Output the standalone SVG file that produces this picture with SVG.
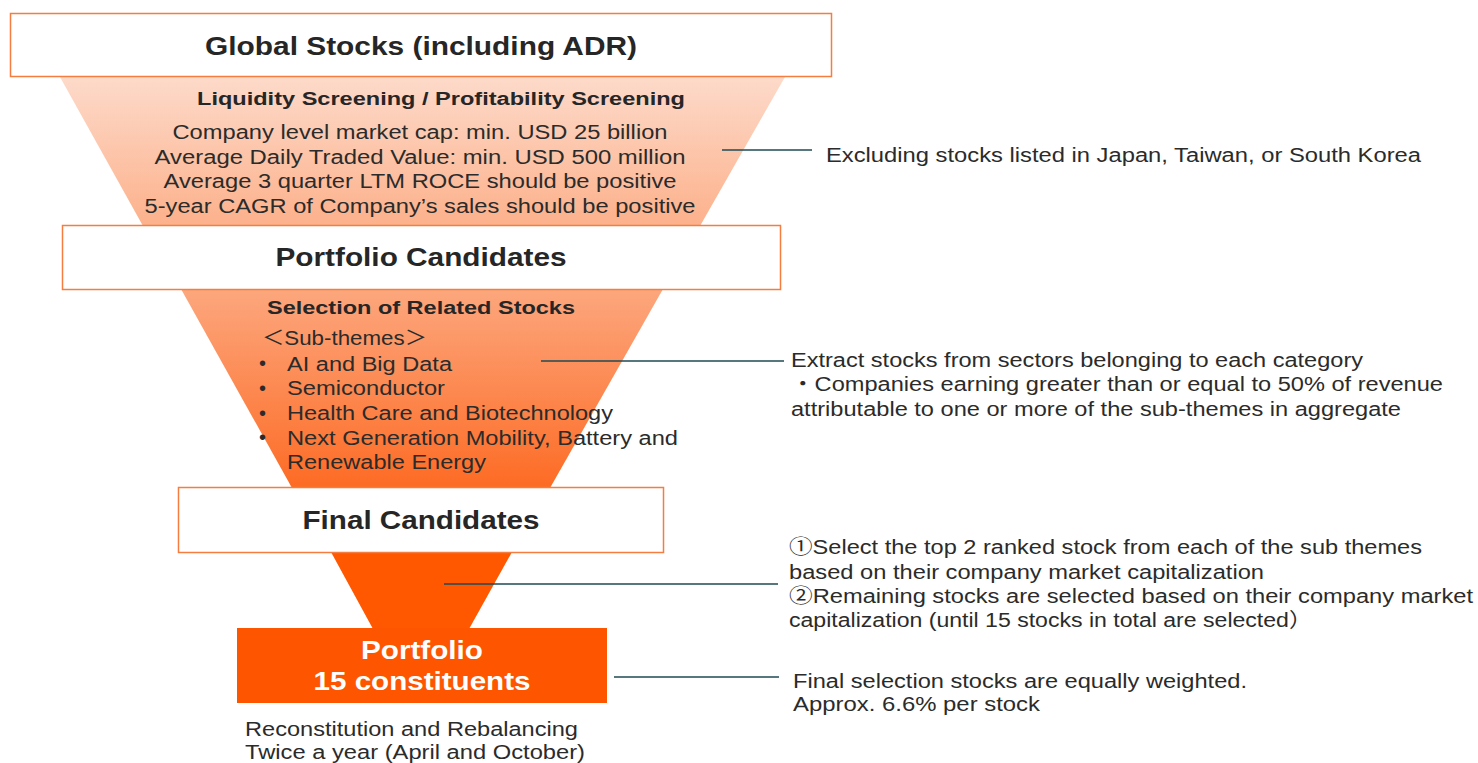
<svg xmlns="http://www.w3.org/2000/svg" width="1478" height="763" viewBox="0 0 1478 763">
  <defs>
    <linearGradient id="gradTop" x1="0" y1="0" x2="0" y2="1">
      <stop offset="0" stop-color="#fddaca"/>
      <stop offset="1" stop-color="#fcb18b"/>
    </linearGradient>
    <linearGradient id="gradMid" x1="0" y1="0" x2="0" y2="1">
      <stop offset="0" stop-color="#fca77e"/>
      <stop offset="1" stop-color="#fd6b24"/>
    </linearGradient>
    <style>
      .stage { fill: #ffffff; stroke: #f47d3f; stroke-width: 1.5; }
      .title { font-family: "Liberation Sans", Arial, sans-serif; font-weight: bold; font-size: 25px; fill: #262626; text-anchor: middle; }
      .sub { font-family: "Liberation Sans", Arial, sans-serif; font-weight: bold; font-size: 18px; fill: #262626; text-anchor: middle; }
      .body { font-family: "Liberation Sans", Arial, "Noto Sans CJK JP", sans-serif; font-size: 20px; fill: #2b2b2b; }
      .mid { text-anchor: middle; }
      .white { font-family: "Liberation Sans", Arial, sans-serif; font-weight: bold; font-size: 25px; fill: #ffffff; text-anchor: middle; }
      .leader { stroke: #1f4a55; stroke-width: 1.5; fill: none; }
    </style>
  </defs>

  <!-- funnel body, split into three bands -->
  <g id="funnel">
    <polygon points="60,77 785,77 700,226 143,226" fill="url(#gradTop)"/>
    <polygon points="181,289 663,289 550,488 292,488" fill="url(#gradMid)"/>
    <polygon points="331,552 512,552 469,629 373,629" fill="#ff5800"/>
  </g>

  <!-- screening criteria inside the top band -->
  <g id="screening">
    <text class="sub" x="441" y="105" textLength="488" lengthAdjust="spacingAndGlyphs">Liquidity Screening / Profitability Screening</text>
    <text class="body mid" x="420" y="139" textLength="495" lengthAdjust="spacingAndGlyphs">Company level market cap: min. USD 25 billion</text>
    <text class="body mid" x="420" y="164" textLength="531" lengthAdjust="spacingAndGlyphs">Average Daily Traded Value: min. USD 500 million</text>
    <text class="body mid" x="420" y="188" textLength="513" lengthAdjust="spacingAndGlyphs">Average 3 quarter LTM ROCE should be positive</text>
    <text class="body mid" x="420" y="213" textLength="551" lengthAdjust="spacingAndGlyphs">5-year CAGR of Company’s sales should be positive</text>
  </g>

  <!-- related stock selection inside the middle band -->
  <g id="selection">
    <text class="sub" x="421" y="314" textLength="308" lengthAdjust="spacingAndGlyphs">Selection of Related Stocks</text>
    <text class="body" x="262" y="345" textLength="165" lengthAdjust="spacingAndGlyphs">＜Sub-themes＞</text>
    <text class="body" x="259" y="370">•</text>
    <text class="body" x="287" y="371" textLength="165" lengthAdjust="spacingAndGlyphs">AI and Big Data</text>
    <text class="body" x="259" y="395">•</text>
    <text class="body" x="287" y="395" textLength="158" lengthAdjust="spacingAndGlyphs">Semiconductor</text>
    <text class="body" x="259" y="420">•</text>
    <text class="body" x="287" y="420" textLength="326" lengthAdjust="spacingAndGlyphs">Health Care and Biotechnology</text>
    <text class="body" x="259" y="444">•</text>
    <text class="body" x="287" y="445" textLength="391" lengthAdjust="spacingAndGlyphs">Next Generation Mobility, Battery and</text>
    <text class="body" x="287" y="469" textLength="199" lengthAdjust="spacingAndGlyphs">Renewable Energy</text>
  </g>

  <!-- stage boxes -->
  <g id="global-stocks">
    <rect class="stage" x="10.5" y="13.5" width="821" height="63"/>
    <text class="title" x="421" y="55" textLength="432" lengthAdjust="spacingAndGlyphs">Global Stocks (including ADR)</text>
  </g>
  <g id="portfolio-candidates">
    <rect class="stage" x="62.5" y="225.5" width="718" height="64"/>
    <text class="title" x="421" y="266" textLength="291" lengthAdjust="spacingAndGlyphs">Portfolio Candidates</text>
  </g>
  <g id="final-candidates">
    <rect class="stage" x="178.5" y="487.5" width="485" height="65"/>
    <text class="title" x="421" y="529" textLength="237" lengthAdjust="spacingAndGlyphs">Final Candidates</text>
  </g>
  <g id="portfolio">
    <rect x="237" y="628" width="370" height="75" fill="#fe5600"/>
    <text class="white" x="422" y="659" textLength="122" lengthAdjust="spacingAndGlyphs">Portfolio</text>
    <text class="white" x="422" y="690" textLength="217" lengthAdjust="spacingAndGlyphs">15 constituents</text>
  </g>
  <g id="rebalancing">
    <text class="body" x="245" y="736" textLength="333" lengthAdjust="spacingAndGlyphs">Reconstitution and Rebalancing</text>
    <text class="body" x="245" y="759" textLength="340" lengthAdjust="spacingAndGlyphs">Twice a year (April and October)</text>
  </g>

  <!-- leader lines to the notes -->
  <g id="connectors">
    <line class="leader" x1="722" y1="150" x2="812" y2="150"/>
    <line class="leader" x1="541" y1="361" x2="784" y2="361"/>
    <line class="leader" x1="444" y1="584" x2="778" y2="584"/>
    <line class="leader" x1="614" y1="677" x2="779" y2="677"/>
  </g>

  <!-- notes -->
  <g id="note-exclusion">
    <text class="body" x="826" y="162" textLength="595" lengthAdjust="spacingAndGlyphs">Excluding stocks listed in Japan, Taiwan, or South Korea</text>
  </g>
  <g id="note-extract">
    <text class="body" x="791" y="367" textLength="572" lengthAdjust="spacingAndGlyphs">Extract stocks from sectors belonging to each category</text>
    <text class="body" x="791" y="391" textLength="652" lengthAdjust="spacingAndGlyphs"> ・Companies earning greater than or equal to 50% of revenue</text>
    <text class="body" x="791" y="416" textLength="610" lengthAdjust="spacingAndGlyphs">attributable to one or more of the sub-themes in aggregate</text>
  </g>
  <g id="note-ranking">
    <text class="body" x="789" y="554" textLength="633" lengthAdjust="spacingAndGlyphs">①Select the top 2 ranked stock from each of the sub themes</text>
    <text class="body" x="789" y="579" textLength="475" lengthAdjust="spacingAndGlyphs">based on their company market capitalization</text>
    <text class="body" x="789" y="603" textLength="684" lengthAdjust="spacingAndGlyphs">②Remaining stocks are selected based on their company market</text>
    <text class="body" x="789" y="627" textLength="523" lengthAdjust="spacingAndGlyphs">capitalization (until 15 stocks in total are selected）</text>
  </g>
  <g id="note-weighting">
    <text class="body" x="793" y="688" textLength="454" lengthAdjust="spacingAndGlyphs">Final selection stocks are equally weighted.</text>
    <text class="body" x="793" y="711" textLength="247" lengthAdjust="spacingAndGlyphs">Approx. 6.6% per stock</text>
  </g>
</svg>
